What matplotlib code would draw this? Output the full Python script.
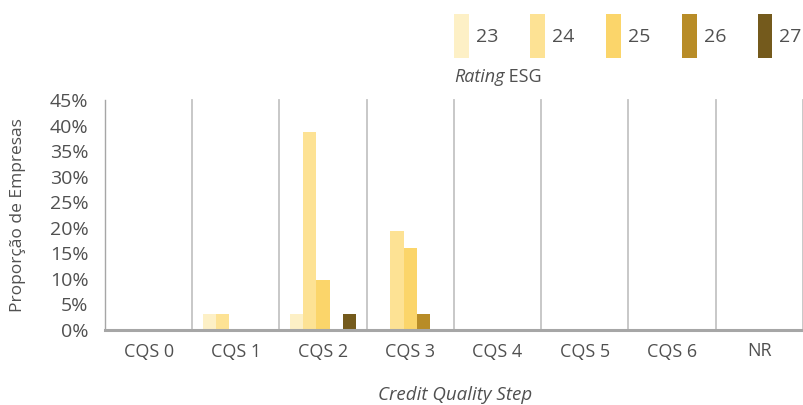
import matplotlib
matplotlib.use("Agg")
import matplotlib.pyplot as plt
import numpy as np
from matplotlib.ticker import FuncFormatter

plt.rcParams['font.family'] = ['Open Sans', 'DejaVu Sans']

# Share of companies (%) per Credit Quality Step, split by ESG rating
categories = ['CQS 0', 'CQS 1', 'CQS 2', 'CQS 3', 'CQS 4', 'CQS 5', 'CQS 6', 'NR']
ratings = ['23', '24', '25', '26', '27']
share_23 = [0, 3.2, 3.2, 0, 0, 0, 0, 0]
share_24 = [0, 3.2, 38.7, 19.4, 0, 0, 0, 0]
share_25 = [0, 0, 9.7, 16.1, 0, 0, 0, 0]
share_26 = [0, 0, 0, 3.2, 0, 0, 0, 0]
share_27 = [0, 0, 3.2, 0, 0, 0, 0, 0]
series = [share_23, share_24, share_25, share_26, share_27]
colors = ['#FDF0C6', '#FDE294', '#FBD56A', '#B88C27', '#745A1C']

yticks = np.arange(0, 50, 5)
text_color = '#505050'

W, H = 804, 405
fig = plt.figure(figsize=(W / 100, H / 100), dpi=100)
ax = fig.add_axes([105 / W, 1 - 330 / H, 698 / W, 230 / H])

x = np.arange(len(categories))
bw = 0.152
for i, (vals, lab, col) in enumerate(zip(series, ratings, colors)):
    ax.bar(x + (i - 2) * bw, vals, width=bw, color=col, label=lab,
           linewidth=0, zorder=2)

ax.set_xlim(-0.5, len(categories) - 0.5)
ax.set_ylim(0, 45)
ax.set_yticks(yticks)
ax.yaxis.set_major_formatter(FuncFormatter(lambda v, p: f"{v:.0f}%"))
ax.set_xticks(x)
ax.set_xticklabels(categories)
ax.tick_params(axis='both', length=0, colors=text_color)
ax.tick_params(axis='x', pad=9, labelsize=13)
ax.tick_params(axis='y', pad=12, labelsize=14)

# category separators
for b in np.arange(0.5, len(categories), 1.0):
    ax.axvline(b, color='#C4C4C4', linewidth=1.3, zorder=1, clip_on=False)

for s in ['top', 'right']:
    ax.spines[s].set_visible(False)
ax.spines['left'].set_color('#A6A6A6')
ax.spines['left'].set_linewidth(1.0)
ax.spines['bottom'].set_color('#A6A6A6')
ax.spines['bottom'].set_linewidth(2.2)
ax.spines['bottom'].set_zorder(3)

fig.text(18 / W, 1 - 215 / H, 'Proporção de Empresas', rotation=90,
         ha='center', va='center', fontsize=12.5, color=text_color)
fig.text(455 / W, 1 - 395 / H, 'Credit Quality Step', style='italic',
         ha='center', va='center', fontsize=13.5, color=text_color)

fs = 14
leg = fig.legend(loc='upper left', bbox_to_anchor=(454 / W, 1 - 14 / H),
                 bbox_transform=fig.transFigure, ncol=5, frameon=False,
                 fontsize=fs, handlelength=0.77, handleheight=3.1,
                 handletextpad=0.36, columnspacing=1.62, borderpad=0,
                 borderaxespad=0)
for t in leg.get_texts():
    t.set_color(text_color)

t1 = fig.text(454 / W, 1 - 77 / H, 'Rating', style='italic', ha='left',
              va='center', fontsize=13, color=text_color)
# "ESG" set upright, directly after the italic word
ax.annotate(' ESG', xy=(1, 0), xycoords=t1, va='bottom', ha='left',
            fontsize=13, color=text_color, annotation_clip=False)

fig.savefig('out.png', dpi=100)
